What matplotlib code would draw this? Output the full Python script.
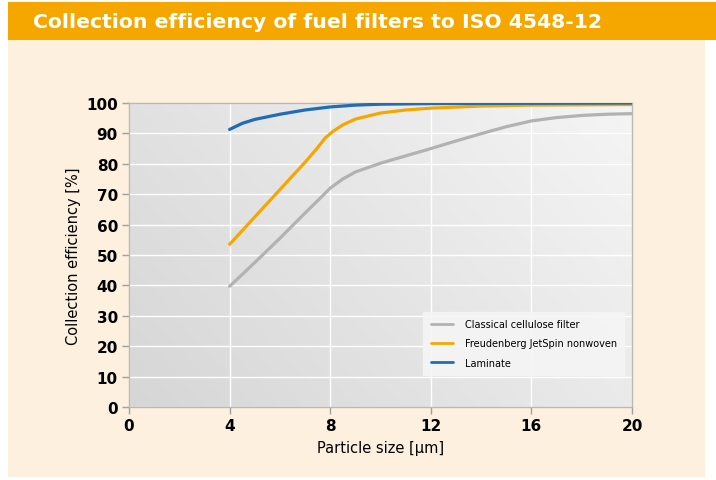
import numpy as np
import matplotlib.pyplot as plt
from matplotlib.patches import Rectangle
from matplotlib.colors import LinearSegmentedColormap

# data
x_cellulose = [4, 5, 6, 7, 7.7, 8, 8.5, 9, 10, 11, 12, 13, 14, 15, 16, 17, 18, 19, 20]
y_cellulose = [39.7, 47.5, 55.5, 63.8, 69.5, 72.0, 75.0, 77.3, 80.2, 82.6, 85.0, 87.5, 89.9, 92.2, 94.1, 95.2, 95.9, 96.3, 96.5]

x_jetspin = [4, 5, 6, 7, 7.5, 7.8, 8.1, 8.5, 9, 10, 11, 12, 14, 16, 20]
y_jetspin = [53.5, 62.5, 71.5, 80.5, 85.3, 88.5, 90.6, 92.8, 94.7, 96.7, 97.7, 98.3, 99.0, 99.3, 99.5]

x_laminate = [4, 4.5, 5, 6, 7, 8, 9, 10, 12, 16, 20]
y_laminate = [91.3, 93.3, 94.6, 96.3, 97.7, 98.7, 99.3, 99.6, 99.8, 99.9, 100.0]

xticks = [0, 4, 8, 12, 16, 20]
yticks = list(range(0, 101, 10))

W, H = 716, 481
fig = plt.figure(figsize=(W / 100, H / 100), dpi=100)
fig.patch.set_facecolor("white")

# background panels
fig.add_artist(Rectangle((8 / W, 3 / H), 697 / W, 440 / H, transform=fig.transFigure,
                         facecolor="#fdf0de", edgecolor="none", zorder=0))
fig.add_artist(Rectangle((8 / W, 1 - 41 / H), 708 / W, 38 / H, transform=fig.transFigure,
                         facecolor="#f5a700", edgecolor="none", zorder=0))
fig.text(33 / W, 1 - 22 / H, "Collection efficiency of fuel filters to ISO 4548-12",
         color="white", fontsize=14.7, fontweight="bold", va="center", ha="left")

ax = fig.add_axes([129 / W, 1 - 408 / H, 503 / W, 304 / H])
ax.set_xlim(0, 20)
ax.set_ylim(0, 100)

# gradient background of the plot area
gx, gy = np.meshgrid(np.linspace(0, 1, 200), np.linspace(0, 1, 200))
grad = gx * 0.65 + gy * 0.35
ax.imshow(grad, extent=[0, 20, 0, 100], origin="lower", aspect="auto",
          cmap=LinearSegmentedColormap.from_list("g", ["#d6d6d6", "#f5f5f5"]), zorder=0)

ax.set_xticks(xticks)
ax.set_yticks(yticks)
ax.grid(True, color="white", linewidth=1.0, zorder=1)
ax.set_axisbelow(True)

ax.plot(x_cellulose, y_cellulose, color="#b2b2b2", lw=2.3, solid_capstyle="round", zorder=3,
        label="Classical cellulose filter")
ax.plot(x_jetspin, y_jetspin, color="#f5a700", lw=2.3, solid_capstyle="round", zorder=4,
        label="Freudenberg JetSpin nonwoven")
ax.plot(x_laminate, y_laminate, color="#1f6db5", lw=2.3, solid_capstyle="round", zorder=5,
        label="Laminate")

for s in ax.spines.values():
    s.set_color("#b8b8b8")
    s.set_linewidth(1.0)
ax.tick_params(length=5, color="#a0a0a0", width=1.0, labelsize=11, pad=3)
for lab in ax.get_xticklabels() + ax.get_yticklabels():
    lab.set_fontweight("bold")

ax.set_xlabel("Particle size [μm]", fontsize=10.5, labelpad=5)
ax.set_ylabel("Collection efficiency [%]", fontsize=10.5, labelpad=4)

leg = ax.legend(loc="lower right", bbox_to_anchor=(495 / 503, 32 / 304), fontsize=7,
                frameon=True, fancybox=False, handlelength=2.3, borderpad=0.75,
                labelspacing=0.95, handletextpad=1.2, borderaxespad=0)
leg.get_frame().set_facecolor("#f5f5f5")
leg.get_frame().set_edgecolor("#f5f5f5")
leg.get_frame().set_alpha(0.9)
for line in leg.get_lines():
    line.set_linewidth(2.0)

fig.savefig("out.png", dpi=100)
